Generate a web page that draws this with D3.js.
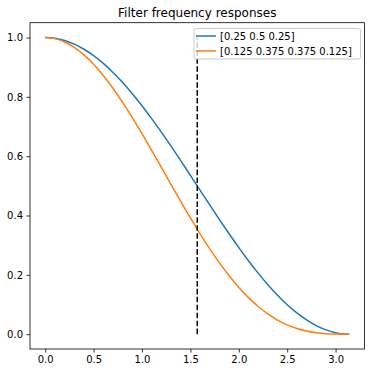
<!DOCTYPE html>
<html>
  <head>
    <meta charset="utf-8">
    <title>Filter frequency responses</title>
    <script src="https://cdn.jsdelivr.net/npm/d3@7"></script>
    <style>
      body { margin: 0; background: white; }
      text { font-family: "DejaVu Sans", sans-serif; fill: #000; }
    </style>
  </head>
  <body>
    <script>
      // sampled frequencies (rad)
      var freqs = [0, 0.1, 0.2, 0.3, 0.4, 0.5, 0.6, 0.7, 0.8, 0.9, 1.0, 1.1, 1.2, 1.3, 1.4, 1.5,
                   1.6, 1.7, 1.8, 1.9, 2.0, 2.1, 2.2, 2.3, 2.4, 2.5, 2.6, 2.7, 2.8, 2.9, 3.0, 3.1, 3.1416];
      var resp3 = [1, 0.9975, 0.9900, 0.9777, 0.9605, 0.9388, 0.9127, 0.8824, 0.8484, 0.8108, 0.7702,
                   0.7268, 0.6812, 0.6337, 0.5850, 0.5354, 0.4854, 0.4356, 0.3864, 0.3384, 0.2919,
                   0.2476, 0.2057, 0.1669, 0.1313, 0.0994, 0.0716, 0.0480, 0.0289, 0.0145, 0.0050, 0.0004, 0];
      var resp4 = [1, 0.9963, 0.9851, 0.9667, 0.9414, 0.9096, 0.8719, 0.8289, 0.7814, 0.7301, 0.6759,
                   0.6196, 0.5622, 0.5045, 0.4474, 0.3917, 0.3382, 0.2875, 0.2402, 0.1968, 0.1577,
                   0.1232, 0.0933, 0.0682, 0.0476, 0.0313, 0.0192, 0.0105, 0.0049, 0.0017, 0.0004, 0, 0];
      var seriesNames = ['[0.25 0.5 0.25]', '[0.125 0.375 0.375 0.125]'];
      var seriesColors = ['#1f77b4', '#ff7f0e'];
      var cutoff = 1.5708;
      var xTicks = [0, 0.5, 1.0, 1.5, 2.0, 2.5, 3.0];
      var yTicks = [0, 0.2, 0.4, 0.6, 0.8, 1.0];

      var W = 372, H = 373;
      var mLeft = 30, mRight = 364.5, mTop = 22.7, mBottom = 349;

      var svg = d3.select('body').append('svg').attr('width', W).attr('height', H);

      var x = d3.scaleLinear().domain([-0.05 * 3.1416, 1.05 * 3.1416]).range([mLeft, mRight]);
      var y = d3.scaleLinear().domain([-0.05, 1.05]).range([mBottom, mTop]);

      var line = d3.line().x(function(d){ return x(d[0]); }).y(function(d){ return y(d[1]); }).curve(d3.curveMonotoneX);

      [resp3, resp4].forEach(function(r, i){
        svg.append('path')
          .datum(freqs.map(function(f, k){ return [f, r[k]]; }))
          .attr('d', line)
          .attr('fill', 'none')
          .attr('stroke', seriesColors[i])
          .attr('stroke-width', 1.5);
      });

      svg.append('line')
        .attr('x1', x(cutoff)).attr('x2', x(cutoff))
        .attr('y1', y(0)).attr('y2', y(1))
        .attr('stroke', '#000').attr('stroke-width', 1.5)
        .attr('stroke-dasharray', '5.55 2.4');

      // axes
      var xAxis = d3.axisBottom(x).tickValues(xTicks).tickSize(3.5).tickPadding(3.5).tickFormat(d3.format('.1f'));
      var yAxis = d3.axisLeft(y).tickValues(yTicks).tickSize(3.5).tickPadding(3.5).tickFormat(d3.format('.1f'));
      var gx = svg.append('g').attr('transform', 'translate(0,' + mBottom + ')').call(xAxis);
      var gy = svg.append('g').attr('transform', 'translate(' + mLeft + ',0)').call(yAxis);
      [gx, gy].forEach(function(g){
        g.select('.domain').remove();
        g.selectAll('line').attr('stroke', '#000').attr('stroke-width', 0.8);
        g.selectAll('text').attr('font-size', 10).attr('font-family', 'DejaVu Sans').attr('fill', '#000');
      });

      svg.append('rect')
        .attr('x', mLeft).attr('y', mTop).attr('width', mRight - mLeft).attr('height', mBottom - mTop)
        .attr('fill', 'none').attr('stroke', '#000').attr('stroke-width', 0.8);

      svg.append('text')
        .attr('x', (mLeft + mRight) / 2).attr('y', 17)
        .attr('text-anchor', 'middle').attr('font-size', 12)
        .text('Filter frequency responses');

      // legend
      var lg = svg.append('g');
      lg.append('rect')
        .attr('x', 194).attr('y', 28.5).attr('width', 166.5).attr('height', 30.5)
        .attr('rx', 2).attr('fill', 'white').attr('fill-opacity', 0.8)
        .attr('stroke', '#cccccc').attr('stroke-width', 1);
      seriesNames.forEach(function(name, i){
        var yy = 36 + i * 15;
        lg.append('line').attr('x1', 196).attr('x2', 216).attr('y1', yy).attr('y2', yy)
          .attr('stroke', seriesColors[i]).attr('stroke-width', 1.5);
        lg.append('text').attr('x', 220).attr('y', yy + 3.6).attr('font-size', 10).text(name);
      });
    </script>
  </body>
</html>
